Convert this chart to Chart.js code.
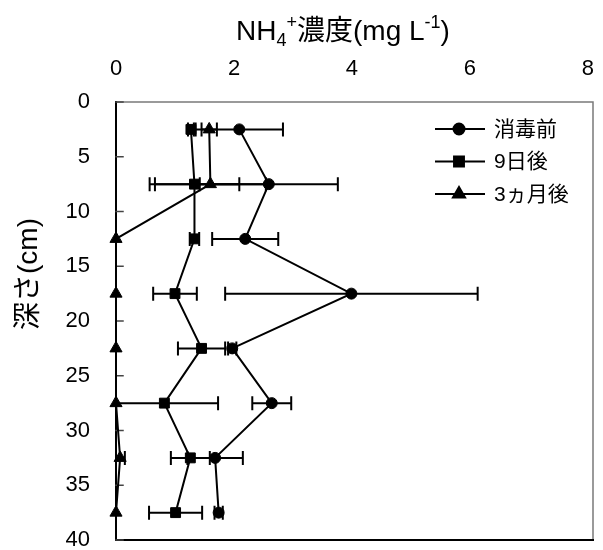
<!DOCTYPE html>
<html>
<head>
<meta charset="utf-8">
<script src="https://cdn.jsdelivr.net/npm/chart.js@4.4.0/dist/chart.umd.min.js"></script>
<style>
  html, body { margin: 0; padding: 0; background: #fff; overflow: hidden; }
  canvas { display: block; }
</style>
</head>
<body>
<canvas id="depthChart" width="603" height="550"></canvas>
<script>
// données (profondeur en cm, concentration en mg/L)
const depths = [2.5, 7.5, 12.5, 17.5, 22.5, 27.5, 32.5, 37.5];
const beforeVals = [2.09, 2.59, 2.19, 3.99, 1.97, 2.64, 1.68, 1.74];
const beforeErr = [0.74, 1.17, 0.56, 2.14, 0.07, 0.33, 0.47, 0.07];
const day9Vals = [1.27, 1.33, 1.33, 1.0, 1.45, 0.82, 1.26, 1.01];
const day9Err = [0.05, 0.76, 0.08, 0.37, 0.4, 0.91, 0.33, 0.45];
const month3Vals = [1.58, 1.6, 0, 0, 0, 0, 0.07, 0];
const month3Err = [0.13, 0.94, 0, 0, 0, 0, 0.08, 0];
const seriesLabels = ["消毒前", "9日後", "3ヵ月後"];
const xTicks = [0, 2, 4, 6, 8];
const yTicks = [0, 5, 10, 15, 20, 25, 30, 35, 40];

const FONT = "'Liberation Sans', Arial, 'Noto Sans CJK JP', sans-serif";
Chart.defaults.font.family = FONT;
Chart.defaults.color = "#000";

function toPoints(vals) {
  return vals.map((v, i) => ({ x: v, y: depths[i] }));
}

// cadre + graduations intérieures de l'axe Y
const framePlugin = {
  id: "frame",
  beforeDatasetsDraw(chart) {
    const { ctx, chartArea: a, scales } = chart;
    ctx.save();
    ctx.lineCap = "square";
    ctx.strokeStyle = "#7a7a7a";
    ctx.lineWidth = 1.5;
    ctx.beginPath();
    ctx.moveTo(a.left, a.top);
    ctx.lineTo(a.right, a.top);
    ctx.lineTo(a.right, a.bottom);
    ctx.stroke();
    ctx.strokeStyle = "#000";
    ctx.lineWidth = 2;
    ctx.beginPath();
    ctx.moveTo(a.left, a.top);
    ctx.lineTo(a.left, a.bottom);
    ctx.lineTo(a.right, a.bottom);
    ctx.stroke();
    ctx.lineWidth = 1.5;
    ctx.strokeStyle = "#444";
    yTicks.forEach((t) => {
      const y = scales.y.getPixelForValue(t);
      ctx.beginPath();
      ctx.moveTo(a.left, y);
      ctx.lineTo(a.left + 7, y);
      ctx.stroke();
    });
    ctx.restore();
  },
};

// barres d'erreur horizontales
const errorPlugin = {
  id: "errbars",
  beforeDatasetsDraw(chart) {
    const { ctx, chartArea: a, scales } = chart;
    ctx.save();
    ctx.strokeStyle = "#000";
    ctx.lineWidth = 2;
    chart.data.datasets.forEach((ds) => {
      ds.err.forEach((e, i) => {
        if (!e) return;
        const p = ds.data[i];
        const y = scales.y.getPixelForValue(p.y);
        const x1 = scales.x.getPixelForValue(p.x - e);
        const x2 = scales.x.getPixelForValue(p.x + e);
        const l = Math.max(x1, a.left);
        ctx.beginPath();
        ctx.moveTo(l, y);
        ctx.lineTo(x2, y);
        if (x1 >= a.left) {
          ctx.moveTo(x1, y - 7);
          ctx.lineTo(x1, y + 7);
        }
        ctx.moveTo(x2, y - 7);
        ctx.lineTo(x2, y + 7);
        ctx.stroke();
      });
    });
    ctx.restore();
  },
};

// titres (indices / exposants) et légende dans la zone du graphe
const textPlugin = {
  id: "texts",
  afterDraw(chart) {
    const { ctx, chartArea: a } = chart;
    ctx.save();
    ctx.fillStyle = "#000";
    ctx.textBaseline = "alphabetic";

    const big = "28px " + FONT;
    const small = "18px " + FONT;
    const parts = [
      { t: "NH", f: big, dy: 0 },
      { t: "4", f: small, dy: 6 },
      { t: "+", f: small, dy: -12 },
      { t: "濃度(mg L", f: big, dy: 0 },
      { t: "-1", f: small, dy: -12 },
      { t: ")", f: big, dy: 0 },
    ];
    let w = 0;
    parts.forEach((p) => {
      ctx.font = p.f;
      p.w = ctx.measureText(p.t).width;
      w += p.w;
    });
    let x = 343 - w / 2;
    parts.forEach((p) => {
      ctx.font = p.f;
      ctx.fillText(p.t, x, 40 + p.dy);
      x += p.w;
    });

    ctx.translate(29, 274);
    ctx.rotate(-Math.PI / 2);
    ctx.font = big;
    ctx.textAlign = "center";
    ctx.textBaseline = "middle";
    ctx.fillText("深さ(cm)", 0, 0);
    ctx.restore();

    ctx.save();
    ctx.font = "21px " + FONT;
    ctx.textBaseline = "middle";
    ctx.fillStyle = "#000";
    chart.data.datasets.forEach((ds, i) => {
      const lx = a.right - 158;
      const ly = a.top + 27 + i * 32.5;
      ctx.strokeStyle = "#000";
      ctx.lineWidth = 2;
      ctx.beginPath();
      ctx.moveTo(lx, ly);
      ctx.lineTo(lx + 50, ly);
      ctx.stroke();
      Chart.helpers.drawPoint(ctx, {
        pointStyle: ds.pointStyle,
        radius: ds.pointRadius,
        borderWidth: 1,
      }, lx + 24, ly);
      ctx.fill();
      ctx.fillText(ds.label, lx + 59, ly + 1);
    });
    ctx.restore();
  },
};

function makeSet(label, vals, err, style, r) {
  return {
    label,
    data: toPoints(vals),
    err,
    showLine: true,
    borderColor: "#000",
    borderWidth: 2,
    backgroundColor: "#000",
    pointStyle: style,
    pointRadius: r,
    pointHoverRadius: r,
    pointBackgroundColor: "#000",
    pointBorderColor: "#000",
    pointBorderWidth: 1,
    tension: 0,
    clip: false,
  };
}

function noPad(s) {
  s.paddingLeft = 0;
  s.paddingRight = 0;
  s.paddingTop = 0;
  s.paddingBottom = 0;
}

new Chart(document.getElementById("depthChart"), {
  type: "scatter",
  data: {
    datasets: [
      makeSet(seriesLabels[0], beforeVals, beforeErr, "circle", 5.5),
      makeSet(seriesLabels[1], day9Vals, day9Err, "rect", 7),
      makeSet(seriesLabels[2], month3Vals, month3Err, "triangle", 7),
    ],
  },
  options: {
    responsive: false,
    animation: false,
    layout: { padding: { left: 0, top: 0, right: 10, bottom: 10 } },
    plugins: {
      legend: { display: false },
      tooltip: { enabled: false },
      title: { display: false },
    },
    scales: {
      x: {
        type: "linear",
        position: "top",
        min: 0,
        max: 8.085,
        afterBuildTicks: (s) => { s.ticks = xTicks.map((v) => ({ value: v })); },
        afterFit: (s) => { s.height = 102; noPad(s); },
        grid: { display: false, drawTicks: false },
        border: { display: false },
        ticks: { font: { size: 22 }, padding: 20, color: "#000" },
      },
      y: {
        type: "linear",
        reverse: true,
        min: 0,
        max: 40,
        afterBuildTicks: (s) => { s.ticks = yTicks.map((v) => ({ value: v })); },
        afterFit: (s) => { s.width = 116; noPad(s); },
        grid: { display: false, drawTicks: false },
        border: { display: false },
        ticks: { font: { size: 22 }, padding: 26, color: "#000" },
      },
    },
  },
  plugins: [framePlugin, errorPlugin, textPlugin],
});
</script>
</body>
</html>
